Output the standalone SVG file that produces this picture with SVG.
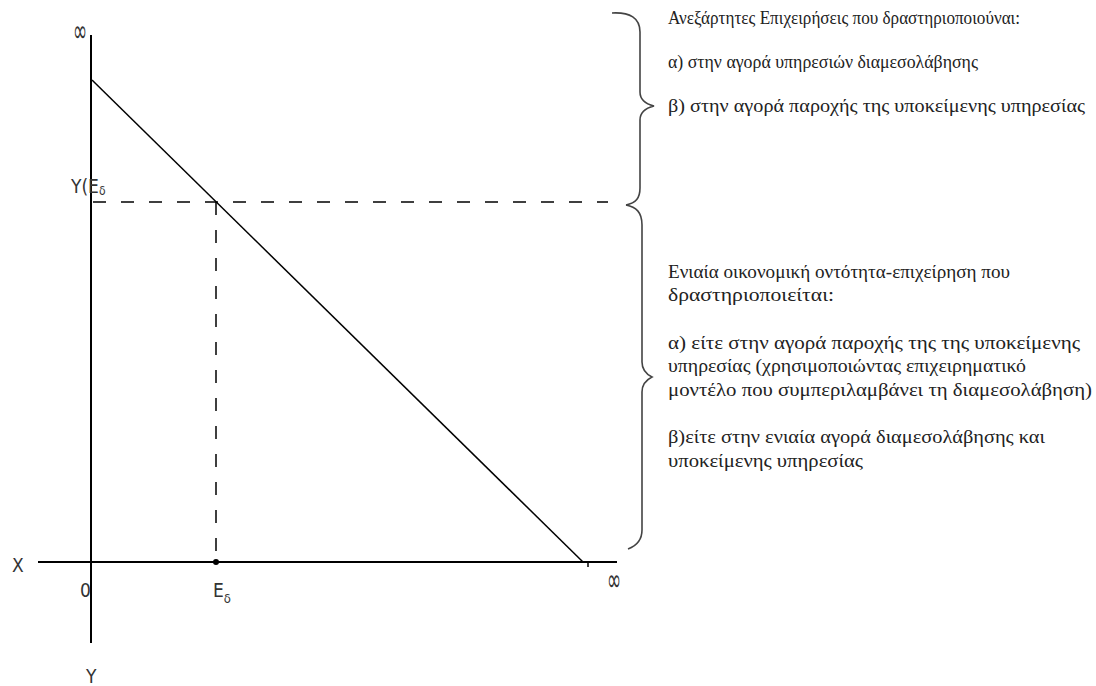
<svg xmlns="http://www.w3.org/2000/svg" width="1096" height="686" viewBox="0 0 1096 686">
<style>
.ax{stroke:#000;stroke-width:2;fill:none}
.ln{stroke:#000;stroke-width:1.5;fill:none}
.dash{stroke:#000;stroke-width:1.5;fill:none;stroke-dasharray:13 15}
.br{stroke:#444;stroke-width:1.6;fill:none}
.lb{font-family:"Liberation Sans Narrow","DejaVu Sans Condensed","Liberation Sans",sans-serif;font-size:19px;fill:#333}
.inf{font-family:"DejaVu Sans","Liberation Sans",sans-serif;font-size:20px;fill:#333}
.tx{font-family:"Liberation Serif","DejaVu Serif","Times New Roman",serif;font-size:19px;fill:#222}
</style>
<rect width="1096" height="686" fill="#fff"/>
<g id="axes">
<line class="ax" x1="91" y1="35" x2="91" y2="643"/>
<line class="ax" x1="38" y1="562" x2="617" y2="562"/>
</g>
<g id="connectors">
<line class="ln" x1="92" y1="80" x2="583" y2="562"/>
<line class="dash" x1="93" y1="202" x2="608" y2="202"/>
<line class="dash" x1="216" y1="202" x2="216" y2="560"/>
<line class="ln" x1="588" y1="562" x2="588" y2="567"/>
<circle cx="216" cy="562" r="3" fill="#000"/>
</g>
<g id="axis-labels">
<text class="inf" transform="translate(73,42) scale(0.85,1.6)">∞</text>
<text class="lb" x="71" y="193">Y(E<tspan font-size="12" dy="2">δ</tspan></text>
<text class="lb" x="12" y="572">X</text>
<text class="lb" x="80" y="597">0</text>
<text class="lb" x="213" y="597">E<tspan font-size="13" dy="6">δ</tspan></text>
<text class="inf" transform="translate(607,591) scale(0.85,1.6)">∞</text>
<text class="lb" x="86" y="683">Y</text>
</g>
<g id="brace-upper">
<path class="br" d="M612,13 C630,12 640,18 640,32 L640,92 C640,100 646,104 654,106 C646,108 640,112 640,120 L640,188 C640,198 636,203 626,205"/>
</g>
<g id="brace-lower">
<path class="br" d="M626,205 C636,207 642,212 642,225 L642,362 C642,370 646,374 652,377 C646,380 642,384 642,392 L642,530 C642,540 636,546 628,549"/>
</g>
<g id="text-upper">
<text class="tx" x="668" y="24" textLength="352" lengthAdjust="spacingAndGlyphs">Ανεξάρτητες Επιχειρήσεις που δραστηριοποιούναι:</text>
<text class="tx" x="668" y="68" textLength="310" lengthAdjust="spacingAndGlyphs">α) στην αγορά υπηρεσιών διαμεσολάβησης</text>
<text class="tx" x="668" y="112" textLength="417" lengthAdjust="spacingAndGlyphs">β) στην αγορά παροχής της υποκείμενης υπηρεσίας</text>
</g>
<g id="text-lower">
<text class="tx" x="668" y="278" textLength="342" lengthAdjust="spacingAndGlyphs">Ενιαία οικονομική οντότητα-επιχείρηση που</text>
<text class="tx" x="668" y="301" textLength="166" lengthAdjust="spacingAndGlyphs">δραστηριοποιείται:</text>
<text class="tx" x="668" y="349" textLength="412" lengthAdjust="spacingAndGlyphs">α) είτε στην αγορά παροχής της της υποκείμενης</text>
<text class="tx" x="668" y="372" textLength="358" lengthAdjust="spacingAndGlyphs">υπηρεσίας (χρησιμοποιώντας επιχειρηματικό</text>
<text class="tx" x="668" y="396" textLength="424" lengthAdjust="spacingAndGlyphs">μοντέλο που συμπεριλαμβάνει τη διαμεσολάβηση)</text>
<text class="tx" x="668" y="443" textLength="377" lengthAdjust="spacingAndGlyphs">β)είτε στην ενιαία αγορά διαμεσολάβησης και</text>
<text class="tx" x="668" y="467" textLength="195" lengthAdjust="spacingAndGlyphs">υποκείμενης υπηρεσίας</text>
</g>
</svg>
